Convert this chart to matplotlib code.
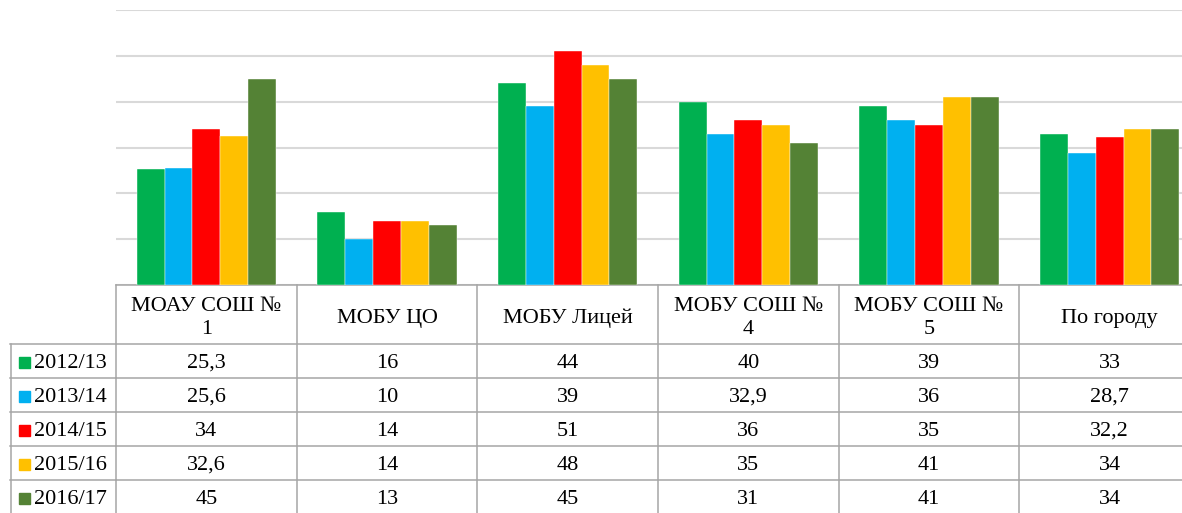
import matplotlib.pyplot as plt
import matplotlib.transforms as mtransforms
import numpy as np

plt.rcParams['font.family'] = ['Liberation Serif', 'DejaVu Serif']

# data
schools = ["МОАУ СОШ №\n1", "МОБУ ЦО", "МОБУ Лицей", "МОБУ СОШ №\n4", "МОБУ СОШ №\n5", "По городу"]
years = ["2012/13", "2013/14", "2014/15", "2015/16", "2016/17"]
v2012 = [25.3, 16, 44, 40, 39, 33]
v2013 = [25.6, 10, 39, 32.9, 36, 28.7]
v2014 = [34, 14, 51, 36, 35, 32.2]
v2015 = [32.6, 14, 48, 35, 41, 34]
v2016 = [45, 13, 45, 31, 41, 34]
series = [v2012, v2013, v2014, v2015, v2016]
colors = ["#00B050", "#00B0F0", "#FF0000", "#FFC000", "#548235"]

W, H = 1182, 513
fs = 16
fig = plt.figure(figsize=(W / 100, H / 100), dpi=100)
# plot area runs past the right edge, as in the cropped original
ax = fig.add_axes([116 / W, 1 - 285 / H, 1084 / W, 275 / H])

x = np.arange(len(schools))
bw = 0.154
for k, (vals, c) in enumerate(zip(series, colors)):
    ax.bar(x + (k - 2) * bw, vals, width=bw, color=c, edgecolor='white', linewidth=0.3, zorder=3)

ax.set_xlim(-0.5, len(schools) - 0.5)
ax.set_ylim(0, 60)
ax.set_yticks(range(0, 61, 10))
ax.yaxis.grid(True, color='#d9d9d9', linewidth=1.5, zorder=0)
ax.set_xticks([])
ax.tick_params(left=False, labelleft=False)
for s in ['top', 'right', 'left', 'bottom']:
    ax.spines[s].set_visible(False)

# data table under the chart
tr = mtransforms.blended_transform_factory(ax.transData, fig.transFigure)
fy = lambda py: 1 - py / H
line_kw = dict(color='#a6a6a6', linewidth=1.1, clip_on=False)
row_edges = [285, 344, 378, 412, 446, 480, 514]
n = len(schools)

# horizontal lines
ax.plot([-0.5, n - 0.5], [fy(285)] * 2, transform=tr, **line_kw)
for py in row_edges[1:]:
    ax.plot([-0.5, n - 0.5], [fy(py)] * 2, transform=tr, **line_kw)
    fig.add_artist(plt.Line2D([10 / W, 116 / W], [fy(py)] * 2, color='#a6a6a6', linewidth=1.1))
# vertical lines
for i in range(n + 1):
    ax.plot([i - 0.5] * 2, [fy(285), fy(514)], transform=tr, **line_kw)
fig.add_artist(plt.Line2D([11 / W] * 2, [fy(344), fy(514)], color='#a6a6a6', linewidth=1.1))

# header
for i, name in enumerate(schools):
    ax.text(i, fy(318), name, transform=tr, ha='center', va='center',
            fontsize=fs, linespacing=1.3)

# rows
for r, (yr, vals, c) in enumerate(zip(years, series, colors)):
    yc = fy((row_edges[r + 1] + row_edges[r + 2]) / 2 + 2)
    fig.add_artist(plt.Rectangle((19 / W, yc - 5 / H), 11 / W, 11 / H,
                                 transform=fig.transFigure, color=c))
    fig.text(34 / W, yc, yr, ha='left', va='center', fontsize=fs)
    for i, v in enumerate(vals):
        s = f"{v:g}".replace('.', ',')
        ax.text(i, yc, s, transform=tr, ha='center', va='center', fontsize=fs)

fig.savefig("out.png", dpi=100)
